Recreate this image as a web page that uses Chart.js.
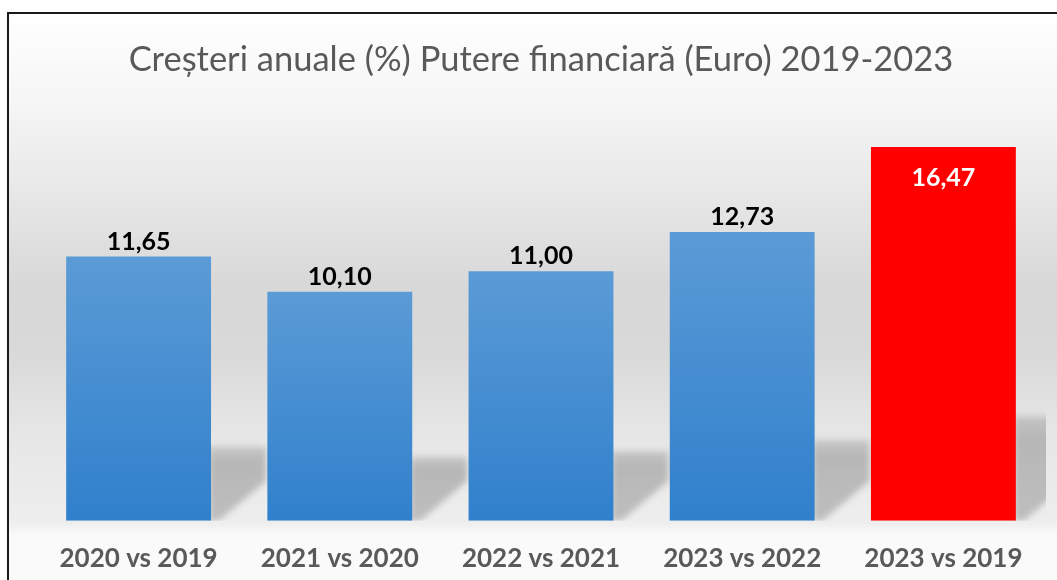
<!DOCTYPE html>
<html>
<head>
<meta charset="utf-8">
<script src="https://cdn.jsdelivr.net/npm/chart.js@4"></script>
<style>
  html, body { margin: 0; padding: 0; background: #ffffff; }
  #wrap { width: 1057px; height: 580px; }
</style>
</head>
<body>
<div id="wrap"><canvas id="growth-chart"></canvas></div>
<script>
// Chart data
const categories = ['2020 vs 2019', '2021 vs 2020', '2022 vs 2021', '2023 vs 2022', '2023 vs 2019'];
const growthValues = [11.65, 10.10, 11.00, 12.73, 16.47];
const highlightIndex = 4;

const FONT = 'Lato, "Open Sans", sans-serif';

// Format numbers Romanian style (comma decimal)
function formatRO(v) {
    return v.toFixed(2).replace('.', ',');
}

// Frame background: gray gradient and black border on top/left
const backgroundPlugin = {
    id: 'frameBackground',
    beforeDraw(chart) {
        const c = chart.ctx;
        const w = chart.width, h = chart.height;
        c.save();
        c.fillStyle = '#ffffff';
        c.fillRect(0, 0, w, h);
        const g = c.createLinearGradient(0, 13, 0, h);
        g.addColorStop(0, '#ffffff');
        g.addColorStop(0.15, '#f6f6f6');
        g.addColorStop(0.3, '#e9e9e9');
        g.addColorStop(0.48, '#d8d8d8');
        g.addColorStop(0.6, '#d9d9d9');
        g.addColorStop(0.74, '#e6e6e6');
        g.addColorStop(0.9, '#eeeeee');
        g.addColorStop(0.92, '#fafafa');
        g.addColorStop(1, '#fafafa');
        c.fillStyle = g;
        c.fillRect(9, 14, w - 9, h - 14);
        c.strokeStyle = '#1a1a1a';
        c.lineWidth = 2;
        c.beginPath();
        c.moveTo(8, h);
        c.lineTo(8, 13);
        c.lineTo(w, 13);
        c.stroke();
        c.restore();
    }
};

// Soft slanted shadow at the foot of each bar
const shadowPlugin = {
    id: 'barShadow',
    beforeDatasetsDraw(chart) {
        const c = chart.ctx;
        const area = chart.chartArea;
        const bars = chart.getDatasetMeta(0).data;
        c.save();
        c.beginPath();
        c.rect(area.left, area.top, area.right - area.left + 2, area.bottom - area.top);
        c.clip();
        c.filter = 'blur(3px)';
        bars.forEach(bar => {
            const right = bar.x + bar.width / 2;
            const base = bar.base;
            const top = base - (base - bar.y) * 0.28;
            const g = c.createLinearGradient(0, top, 0, base);
            g.addColorStop(0, 'rgba(170,170,170,0.5)');
            g.addColorStop(0.2, 'rgba(180,180,180,0.95)');
            g.addColorStop(1, 'rgba(190,190,190,1)');
            c.fillStyle = g;
            c.beginPath();
            c.moveTo(right - 2, top);
            c.lineTo(right + 55, top);
            c.lineTo(right + 55, base - 40);
            c.lineTo(right + 8, base);
            c.lineTo(right - 2, base);
            c.closePath();
            c.fill();
        });
        c.restore();
    }
};

// Value labels above the bars (inside for the highlighted one)
const valueLabelPlugin = {
    id: 'valueLabels',
    afterDatasetsDraw(chart) {
        const c = chart.ctx;
        const bars = chart.getDatasetMeta(0).data;
        c.save();
        c.font = 'bold 25px ' + FONT;
        c.textAlign = 'center';
        c.textBaseline = 'middle';
        bars.forEach((bar, i) => {
            const text = formatRO(growthValues[i]);
            if (i === highlightIndex) {
                c.fillStyle = '#ffffff';
                c.fillText(text, bar.x, bar.y + 31);
            } else {
                c.fillStyle = '#000000';
                c.fillText(text, bar.x, bar.y - 15);
            }
        });
        c.restore();
    }
};

const ctx = document.getElementById('growth-chart').getContext('2d');
const growthChart = new Chart(ctx, {
    type: 'bar',
    data: {
        labels: categories,
        datasets: [{
            data: growthValues,
            backgroundColor: function(context) {
                if (context.dataIndex === highlightIndex) return '#ff0000';
                const chart = context.chart;
                const area = chart.chartArea;
                if (!area) return '#5b9bd5';
                const yScale = chart.scales.y;
                const top = yScale.getPixelForValue(growthValues[context.dataIndex]);
                const bottom = yScale.getPixelForValue(0);
                const g = chart.ctx.createLinearGradient(0, top, 0, bottom);
                g.addColorStop(0, '#5b9bd6');
                g.addColorStop(1, '#3080cc');
                return g;
            },
            borderWidth: 0
        }]
    },
    options: {
        responsive: true,
        maintainAspectRatio: false,
        animation: false,
        layout: {
            padding: { left: 38, right: 13, top: 13, bottom: -16 }
        },
        plugins: {
            legend: { display: false },
            tooltip: { enabled: false },
            title: {
                display: true,
                text: 'Creșteri anuale (%) Putere financiară (Euro) 2019-2023',
                color: '#595959',
                font: { family: FONT, size: 34.5, weight: 'normal' },
                padding: { top: 26, bottom: 32 }
            }
        },
        scales: {
            x: {
                grid: { display: false, drawTicks: false },
                border: { display: false },
                ticks: {
                    color: '#595959',
                    font: { family: FONT, size: 26, weight: 'bold' },
                    padding: 22,
                    maxRotation: 0
                }
            },
            y: {
                display: false,
                min: 0,
                max: 18
            }
        }
    },
    plugins: [backgroundPlugin, shadowPlugin, valueLabelPlugin]
});
</script>
</body>
</html>
